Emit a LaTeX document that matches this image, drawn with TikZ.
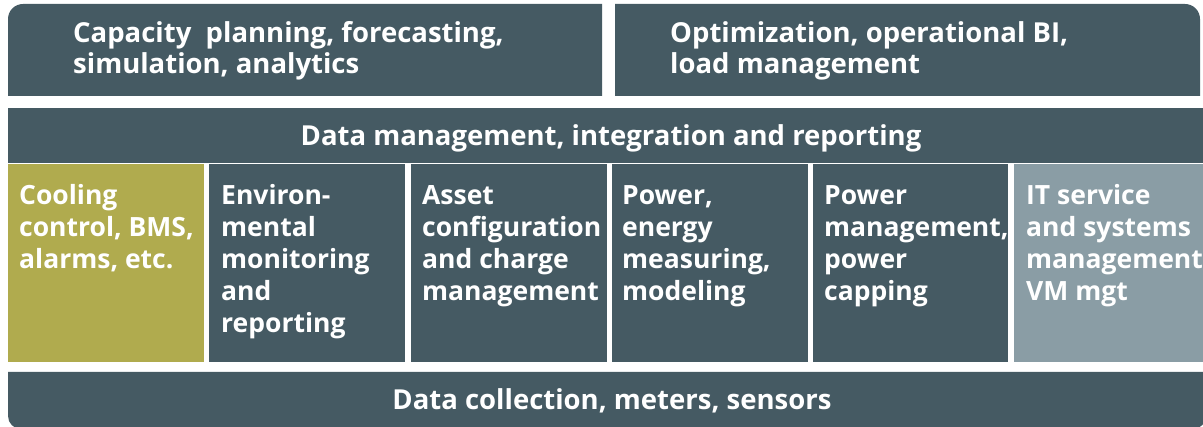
\documentclass[tikz,border=0pt]{standalone}
\usepackage{fontspec}
\setmainfont{Open Sans}
\definecolor{boxdark}{RGB}{69,90,99}
\definecolor{boxolive}{RGB}{176,171,78}
\definecolor{boxgrey}{RGB}{138,157,165}
\begin{document}
\begin{tikzpicture}[x=1pt, y=1pt, inner sep=0pt,
    txt/.style={anchor=base west, align=left, text=white, font=\bfseries\fontsize{26.5}{32}\selectfont},
    head/.style={txt, font=\bfseries\fontsize{27.5}{31}\selectfont},
    bar/.style={head, anchor=base}]
  \clip (0,0) rectangle (1203,-427);
  \fill[white] (0,0) rectangle (1203,-427);
  \fill[boxdark] (8,-96) -- (8,-19) arc[start angle=180, end angle=90, radius=15pt] -- (602,-4) -- (602,-96) -- cycle;
  \fill[boxdark] (615,-96) -- (615,-4) -- (1185,-4) arc[start angle=90, end angle=0, radius=15pt] -- (1200,-96) -- cycle;
  \fill[boxdark] (8,-108) rectangle (1210,-163);
  \fill[boxolive] (8,-164) rectangle (204,-362);
  \fill[boxdark] (209,-164) rectangle (405,-362);
  \fill[boxdark] (411,-164) rectangle (607,-362);
  \fill[boxdark] (612,-164) rectangle (808,-362);
  \fill[boxdark] (813,-164) rectangle (1008,-362);
  \fill[boxgrey] (1014,-164) rectangle (1210,-362);
  \fill[boxdark] (8,-372) -- (8,-416) arc[start angle=180, end angle=270, radius=13pt] -- (1193,-429) arc[start angle=270, end angle=360, radius=13pt] -- (1206,-372) -- cycle;
  \node[head] (capacity) at (73,-74) {Capacity\ \ planning, forecasting,\\simulation, analytics};
  \node[head] (optim) at (670,-74) {Optimization, operational BI,\\load management};
  \node[bar] (datamgmt) at (611,-146) {Data management, integration and reporting};
  \node[txt] (cooling) at (19,-269) {Cooling\\control, BMS,\\alarms, etc.};
  \node[txt] (environ) at (221,-333) {Environ-\\mental\\monitoring\\and\\reporting};
  \node[txt] (asset) at (422,-301) {Asset\\configuration\\and charge\\management};
  \node[txt] (energy) at (622,-301) {Power,\\energy\\measuring,\\modeling};
  \node[txt] (powermgmt) at (824,-301) {Power\\management,\\power\\capping};
  \node[txt] (itservice) at (1026,-301) {IT service\\and systems\\management\\VM mgt};
  \node[bar] (datacoll) at (612,-410) {Data collection, meters, sensors};
\end{tikzpicture}
\end{document}
